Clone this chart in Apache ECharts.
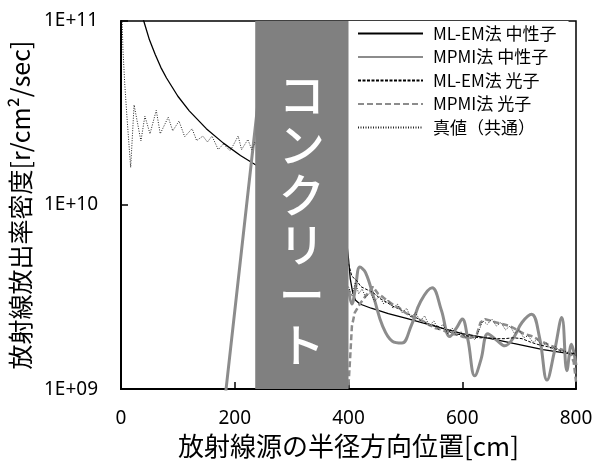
<!DOCTYPE html>
<html>
<head>
<meta charset="utf-8">
<script src="https://cdn.jsdelivr.net/npm/echarts@6/dist/echarts.min.js"></script>
<style>
  html, body { margin: 0; padding: 0; background: #fff; }
  #chart { width: 609px; height: 464px; }
</style>
</head>
<body>
<div id="chart"></div>
<script>
// 放射線源位置 [cm] と 放出率密度 [r/cm2/sec]
const xTicks = [0, 200, 400, 600, 800]
const yTicks = [1e9, 1e10, 1e11]
const concrete = [236, 400]

// ML-EM法 中性子
const mlemNX = [35, 40, 50, 60, 70, 80, 100, 120, 150, 180, 210, 240, 300, 390,
  400, 403, 407, 412, 420, 440, 470, 502, 540, 600, 650, 690, 742, 800]
const mlemNY = [1.11e11, 1.0e11, 7.9e10, 6.6e10, 5.6e10, 4.9e10, 3.9e10, 3.25e10, 2.6e10, 2.17e10, 1.86e10, 1.63e10, 1.3e10, 1.0e10,
  5.1e9, 4.0e9, 3.4e9, 3.05e9, 2.9e9, 2.75e9, 2.57e9, 2.42e9, 2.25e9, 2.0e9, 1.88e9, 1.77e9, 1.64e9, 1.54e9]

// MPMI法 中性子
const mpmiNX = [180, 240, 320,
  400, 406, 412, 420, 430, 445, 460, 477, 494, 510, 527, 547, 563, 578, 590, 600, 610, 622, 633,
  645, 660, 675, 690, 705, 722, 736, 749, 762, 775, 784, 792, 800]
const mpmiNY = [7.4e8, 3.4e10, '-',
  3.5e9, 2.9e9, 3.5e9, 4.6e9, 4.3e9, 3.1e9, 2.2e9, 1.82e9, 1.78e9, 2.2e9, 3.0e9, 3.55e9, 2.7e9, 1.93e9, 2.15e9, 2.4e9, 1.85e9, 1.18e9, 1.45e9,
  2.0e9, 1.85e9, 1.72e9, 1.9e9, 2.3e9, 2.55e9, 1.9e9, 1.12e9, 1.6e9, 2.45e9, 1.26e9, 1.75e9, 1.35e9]

// ML-EM法 光子
const mlemGX = [400, 406, 414, 422, 430, 443, 456, 468, 480, 492, 505, 518, 530, 543, 556, 570, 585,
  600, 615, 630, 645, 660, 675, 690, 705, 720, 735, 750, 765, 780, 790, 800]
const mlemGY = [4.8e9, 4.1e9, 3.9e9, 3.6e9, 3.5e9, 3.35e9, 3.1e9, 2.95e9, 2.8e9, 2.7e9, 2.55e9, 2.45e9, 2.35e9, 2.25e9, 2.2e9, 2.1e9, 2.0e9,
  1.97e9, 1.93e9, 1.9e9, 1.9e9, 1.88e9, 1.88e9, 1.9e9, 1.88e9, 1.8e9, 1.74e9, 1.7e9, 1.65e9, 1.6e9, 1.57e9, 1.55e9]

// MPMI法 光子
const mpmiGX = [400, 403, 406, 411, 420, 430, 443, 452, 461, 470, 480, 490, 500, 510, 520, 530, 540, 552, 565, 578,
  590, 602, 615, 625, 632, 640, 650, 660, 672, 684, 696, 708, 720, 735, 750, 765, 780, 790, 796, 800]
const mpmiGY = [1.05e9, 1.5e9, 2.2e9, 2.6e9, 2.9e9, 3.2e9, 3.6e9, 3.3e9, 3.15e9, 3.0e9, 2.85e9, 2.75e9, 2.6e9, 2.5e9, 2.4e9, 2.35e9, 2.25e9, 2.15e9, 2.1e9, 2.0e9,
  1.98e9, 1.92e9, 1.9e9, 1.95e9, 2.3e9, 2.4e9, 2.35e9, 2.3e9, 2.25e9, 2.2e9, 2.1e9, 2.0e9, 1.95e9, 1.85e9, 1.75e9, 1.68e9, 1.62e9, 1.58e9, 1.4e9, 1.1e9]

// 真値（共通）
const trueX = [0, 2, 3.5, 6.5, 10.5, 17, 23, 35, 42, 51, 62, 69, 83, 91, 102, 112, 125, 133, 144, 152, 160, 171, 180, 192,
  206, 212, 223, 230, 236, 240, 320,
  400, 406, 412, 418, 424, 430, 438, 446, 454, 462, 470, 478, 486, 494, 502, 510, 518, 526, 534, 542, 550, 558, 566, 574,
  582, 590, 598, 606, 614, 622, 630, 636, 644, 652, 660, 668, 676, 684, 692, 700, 708, 716, 724, 732, 740, 748, 756, 764,
  772, 780, 788, 796, 800]
const trueY = [1.4e11, 1.0e11, 6.9e10, 4.6e10, 3.0e10, 1.6e10, 3.5e10, 2.23e10, 3.04e10, 2.44e10, 3.27e10, 2.44e10, 3.0e10, 2.53e10,
  2.86e10, 2.35e10, 2.6e10, 2.24e10, 2.37e10, 2.2e10, 2.37e10, 2.0e10, 2.15e10, 1.97e10,
  2.37e10, 2.0e10, 2.27e10, 2.0e10, 2.2e10, 2.05e10, '-',
  3.6e9, 3.2e9, 3.8e9, 3.3e9, 3.5e9, 3.15e9, 3.35e9, 3.0e9, 3.2e9, 2.9e9, 3.05e9, 2.75e9, 2.9e9, 2.6e9, 2.75e9, 2.45e9, 2.6e9,
  2.35e9, 2.5e9, 2.2e9, 2.35e9, 2.1e9, 2.25e9, 2.0e9,
  2.15e9, 1.95e9, 2.05e9, 1.9e9, 2.0e9, 1.85e9, 2.1e9, 2.35e9, 2.25e9, 2.4e9, 2.2e9, 2.3e9, 2.1e9, 2.2e9, 2.0e9, 2.1e9, 1.9e9,
  1.95e9, 1.8e9, 1.85e9, 1.72e9, 1.78e9, 1.65e9, 1.7e9,
  1.6e9, 1.62e9, 1.55e9, 1.58e9, 1.5e9]

const zip = (xs, ys) => xs.map((x, i) => [x, ys[i]])
const jp = 'Noto Sans CJK JP'
const num = 'Noto Sans'

const chart = echarts.init(document.getElementById('chart'))

chart.setOption({
  animation: false,
  backgroundColor: '#fff',
  grid: { left: 121, right: 33, top: 21, bottom: 68, show: true, borderColor: '#000', borderWidth: 1.5 },
  legend: {
    orient: 'vertical',
    left: 348,
    top: 21,
    backgroundColor: '#fff',
    padding: [4, 12, 50, 9],
    itemWidth: 65,
    itemHeight: 14,
    itemGap: 6.5,
    itemStyle: { opacity: 0 },
    textStyle: { fontFamily: jp, fontSize: 17, color: '#000', padding: [0, 0, 0, 5] },
    data: ['ML-EM法 中性子', 'MPMI法 中性子', 'ML-EM法 光子', 'MPMI法 光子', '真値（共通）'],
  },
  xAxis: {
    type: 'value',
    min: xTicks[0],
    max: xTicks[xTicks.length - 1],
    interval: 200,
    name: '放射線源の半径方向位置[cm]',
    nameLocation: 'middle',
    nameGap: 41,
    nameTextStyle: { fontFamily: jp, fontSize: 26, color: '#000' },
    axisLine: { lineStyle: { color: '#000', width: 2 } },
    axisTick: { inside: true, length: 7, lineStyle: { color: '#000', width: 1.5 } },
    axisLabel: { fontFamily: num, fontSize: 19, color: '#000', margin: 20 },
    splitLine: { show: false },
  },
  yAxis: {
    type: 'log',
    logBase: 10,
    min: yTicks[0],
    max: yTicks[yTicks.length - 1],
    name: '放射線放出率密度[r/cm²/sec]',
    nameLocation: 'middle',
    nameGap: 82,
    nameTextStyle: { fontFamily: jp, fontSize: 25, color: '#000' },
    axisLine: { show: true, lineStyle: { color: '#000', width: 2 } },
    axisTick: { inside: true, length: 7, lineStyle: { color: '#000', width: 1.5 } },
    axisLabel: {
      fontFamily: num, fontSize: 19, color: '#000', margin: 23,
      formatter: (v) => {
        const e = Math.round(Math.log10(v))
        return '1E+' + String(e).padStart(2, '0')
      },
    },
    splitLine: { show: false },
    minorTick: { show: false },
  },
  series: [
    {
      name: 'ML-EM法 中性子',
      type: 'line',
      z: 2,
      symbol: 'none',
      data: zip(mlemNX, mlemNY),
      lineStyle: { color: '#000', width: 1.3 },
      itemStyle: { color: '#000' },
    },
    {
      name: 'MPMI法 中性子',
      type: 'line',
      z: 2,
      symbol: 'none',
      smooth: 0.4,
      data: zip(mpmiNX, mpmiNY),
      lineStyle: { color: '#8c8c8c', width: 3 },
      itemStyle: { color: '#8c8c8c' },
    },
    {
      name: 'ML-EM法 光子',
      type: 'line',
      z: 2,
      symbol: 'none',
      data: zip(mlemGX, mlemGY),
      lineStyle: { color: '#000', width: 1, type: [3, 1.5] },
      itemStyle: { color: '#000' },
    },
    {
      name: 'MPMI法 光子',
      type: 'line',
      z: 2,
      symbol: 'none',
      data: zip(mpmiGX, mpmiGY),
      lineStyle: { color: '#8c8c8c', width: 2.5, type: [6, 3] },
      itemStyle: { color: '#8c8c8c' },
    },
    {
      name: '真値（共通）',
      type: 'line',
      z: 2,
      symbol: 'none',
      data: zip(trueX, trueY),
      lineStyle: { color: '#222', width: 1, type: [1, 1.5] },
      itemStyle: { color: '#222' },
    },
    {
      name: 'concrete',
      type: 'line',
      z: 5,
      data: [],
      markArea: {
        silent: true,
        z: 10,
        itemStyle: { color: '#808080', opacity: 1 },
        label: {
          show: true,
          position: 'inside',
          offset: [0, 14],
          formatter: 'コ\nン\nク\nリ\nー\nト',
          color: '#fff',
          fontFamily: jp,
          fontSize: 46,
          fontWeight: 500,
          lineHeight: 50,
        },
        data: [[{ xAxis: concrete[0] }, { xAxis: concrete[1] }]],
      },
    },
  ],
})
</script>
</body>
</html>
